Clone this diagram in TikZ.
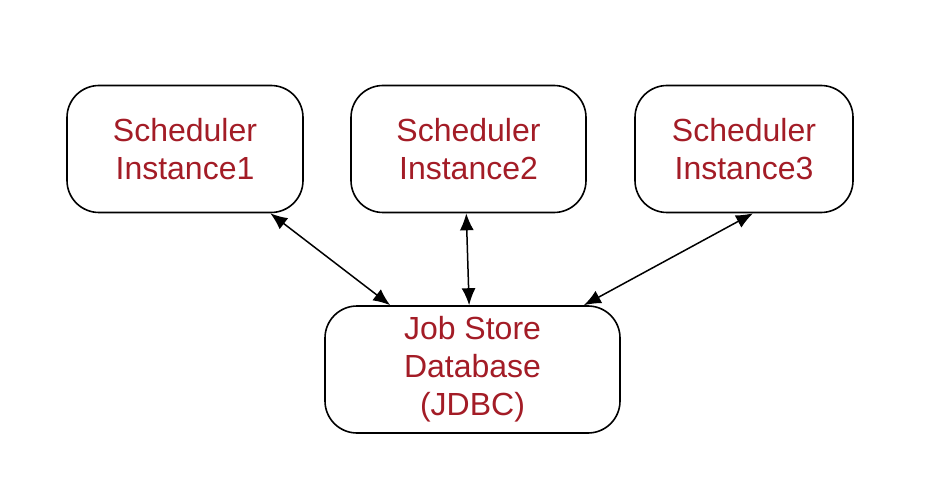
\documentclass[tikz,border=0pt]{standalone}
\usepackage{fontspec}
\setmainfont{Liberation Sans}
\usetikzlibrary{arrows.meta}
\definecolor{schedRed}{RGB}{163, 28, 38}

\begin{document}
\begin{tikzpicture} [
        x=0.5pt, y=-0.5pt,
        box/.style={draw, line width=0.8pt, rounded corners=16pt, minimum height=63.5pt, align=center, font=\fontsize{16}{19}\selectfont, text=schedRed},
        sched/.style={box, minimum width=118pt},
        link/.style={{Latex[length=8.5pt,width=7pt]}-{Latex[length=8.5pt,width=7pt]}, line width=0.75pt}
    ]
    \useasboundingbox (0,0) rectangle (936,502);

    \node[sched] (sched1) at (185,149) {Scheduler\\Instance1};
    \node[sched, minimum width=117.5pt] (sched2) at (468.5,149) {Scheduler\\Instance2};
    \node[sched, minimum width=109pt] (sched3) at (744,149) {Scheduler\\Instance3};

    \node[box, minimum width=147.5pt] (db) at (472.5,369.5) {Job Store\\Database\\(JDBC)};

    \draw[link] (sched1.-37.4) -- (db.142.6);
    \draw[link] (sched2.-92.3) -- (db.93.1);
    \draw[link] (sched3.-82.8) -- (db.30.3);

\end{tikzpicture}
\end{document}
